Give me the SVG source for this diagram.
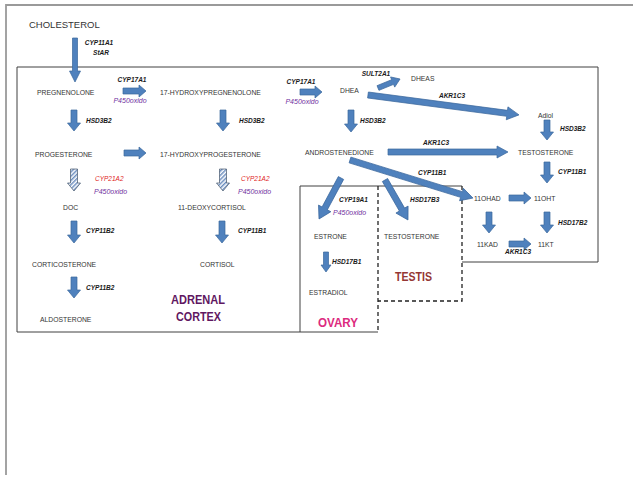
<svg xmlns="http://www.w3.org/2000/svg" width="639" height="482" viewBox="0 0 639 482">
<style>
.n{font-family:"Liberation Sans",Arial,sans-serif;font-size:6.8px;fill:#333}
.l{font-family:"Liberation Sans",Arial,sans-serif;font-size:6.5px;font-weight:bold;font-style:italic;fill:#1a1a1a}
.p{font-family:"Liberation Sans",Arial,sans-serif;font-size:7px;font-style:italic;fill:#7030A0}
.r{font-family:"Liberation Sans",Arial,sans-serif;font-size:6.5px;font-style:italic;fill:#E02424}
.big{font-family:"Liberation Sans",Arial,sans-serif;font-size:12px;font-weight:bold}
.ar{fill:#4F81BD;stroke:#3A679C;stroke-width:0.7}
.ha{fill:url(#hatch);stroke:#44546A;stroke-width:0.7}
.box{fill:none;stroke:#404040;stroke-width:1}
.dash{fill:none;stroke:#222;stroke-width:1.3;stroke-dasharray:4,3}
</style>
<defs>
<pattern id="hatch" patternUnits="userSpaceOnUse" width="3" height="3" patternTransform="rotate(45)">
<rect width="3" height="3" fill="#fff"/><rect width="1.5" height="3" fill="#6C8EBF"/>
</pattern>
</defs>
<rect width="639" height="482" fill="#fff"/>
<g id="frame">
<path d="M6,475 V5 H633" fill="none" stroke="#9a9a9a" stroke-width="1.8"/>
<path class="box" d="M300,332 H17 V67 H598 V262 H462"/>
<path class="box" d="M300,332 H378"/>
<path class="box" d="M300,332 V186 H462"/>
<path class="dash" d="M378,186 V332"/>
<path class="dash" d="M462,186 V301 H378"/>
</g>
<g id="connectors">
<path class="ar" d="M72.5,38 V71 H69.5 L75,82 L80.5,71 H77.5 V38 Z"/>
<path class="ar" d="M71,110 V123 H67.5 L74,131 L80.5,123 H77 V110 Z"/>
<path class="ar" d="M220,110 V123 H216.5 L223,131 L229.5,123 H226 V110 Z"/>
<path class="ar" d="M348,110 V124 H344.5 L351,132 L357.5,124 H354 V110 Z"/>
<path class="ar" d="M544,120 V132 H540.5 L547,140 L553.5,132 H550 V120 Z"/>
<path class="ar" d="M544,162 V175 H540.5 L547,183 L553.5,175 H550 V162 Z"/>
<path class="ar" d="M486,212 V225 H482.5 L489,233 L495.5,225 H492 V212 Z"/>
<path class="ar" d="M544,212 V225 H540.5 L547,233 L553.5,225 H550 V212 Z"/>
<path class="ar" d="M323.5,252 V265 H321 L326,272 L331,265 H328.5 V252 Z"/>
<path class="ar" d="M71,221 V235 H67.5 L74,243 L80.5,235 H77 V221 Z"/>
<path class="ar" d="M219,221 V235 H215.5 L222,243 L228.5,235 H225 V221 Z"/>
<path class="ar" d="M71,277 V290 H67.5 L74,298 L80.5,290 H77 V277 Z"/>
<path class="ha" d="M70.5,169 V183 H67.5 L74,191 L80.5,183 H77.5 V169 Z"/>
<path class="ha" d="M219.5,169 V183 H216.5 L223,191 L229.5,183 H226.5 V169 Z"/>
<path class="ar" d="M123,88 H139 V85 L146,91 L139,97 V94 H123 Z"/>
<path class="ar" d="M300,89 H315 V86 L322,92 L315,98 V95 H300 Z"/>
<path class="ar" d="M124,150 H139 V147 L146,153 L139,159 V156 H124 Z"/>
<path class="ar" d="M388,149 H497 V146 L508,152 L497,158 V155 H388 Z"/>
<path class="ar" d="M509,195 H524 V192 L531,198 L524,204 V201 H509 Z"/>
<path class="ar" d="M509,241 H524 V238 L531,244 L524,250 V247 H509 Z"/>
<path class="ar" transform="translate(378,88) rotate(-22.2)" d="M0,-2.5 H15.8 V-5.5 L23.8,0 L15.8,5.5 V2.5 H0 Z"/>
<path class="ar" transform="translate(368,95) rotate(7.5)" d="M0,-3 H140.3 V-6.5 L152.3,0 L140.3,6.5 V3 H0 Z"/>
<path class="ar" transform="translate(350,160) rotate(17.2)" d="M0,-3 H116.7 V-6.5 L128.7,0 L116.7,6.5 V3 H0 Z"/>
<path class="ar" transform="translate(341,178) rotate(118.2)" d="M0,-3 H34.5 V-7 L46.5,0 L34.5,7 V3 H0 Z"/>
<path class="ar" transform="translate(385,180) rotate(60.1)" d="M0,-3 H34.1 V-7 L46.1,0 L34.1,7 V3 H0 Z"/>
</g>
<g id="labels">
<text class="l" x="99" y="45" text-anchor="middle">CYP11A1</text>
<text class="l" x="101" y="54.5" text-anchor="middle">StAR</text>
<text class="l" x="132" y="82" text-anchor="middle">CYP17A1</text>
<text class="p" x="130" y="102.5" text-anchor="middle">P450oxido</text>
<text class="l" x="301" y="84" text-anchor="middle">CYP17A1</text>
<text class="p" x="302" y="103.5" text-anchor="middle">P450oxido</text>
<text class="l" x="376" y="76" text-anchor="middle">SULT2A1</text>
<text class="l" x="452" y="98" text-anchor="middle">AKR1C3</text>
<text class="l" x="86" y="123">HSD3B2</text>
<text class="l" x="239" y="123">HSD3B2</text>
<text class="l" x="360" y="123">HSD3B2</text>
<text class="l" x="560" y="131">HSD3B2</text>
<text class="l" x="436" y="145" text-anchor="middle">AKR1C3</text>
<text class="l" x="558" y="173.5">CYP11B1</text>
<text class="l" x="418" y="175">CYP11B1</text>
<text class="r" x="95" y="181">CYP21A2</text>
<text class="p" x="94" y="194">P450oxido</text>
<text class="r" x="241" y="181">CYP21A2</text>
<text class="p" x="238" y="194">P450oxido</text>
<text class="l" x="339" y="202">CYP19A1</text>
<text class="p" x="333" y="215">P450oxido</text>
<text class="l" x="410" y="202">HSD17B3</text>
<text class="l" x="558" y="225">HSD17B2</text>
<text class="l" x="505" y="254">AKR1C3</text>
<text class="l" x="332" y="264">HSD17B1</text>
<text class="l" x="86" y="233">CYP11B2</text>
<text class="l" x="238" y="233">CYP11B1</text>
<text class="l" x="86" y="290">CYP11B2</text>
</g>
<g id="cholesterol"><text class="n" x="29" y="28" style="font-size:9.5px">CHOLESTEROL</text></g>
<g id="pregnenolone"><text class="n" x="37" y="94.5">PREGNENOLONE</text></g>
<g id="hydroxypregnenolone"><text class="n" x="160" y="94.5">17-HYDROXYPREGNENOLONE</text></g>
<g id="dhea"><text class="n" x="340" y="92.5">DHEA</text></g>
<g id="dheas"><text class="n" x="411" y="80.5">DHEAS</text></g>
<g id="adiol"><text class="n" x="538" y="117.5">Adiol</text></g>
<g id="progesterone"><text class="n" x="35" y="156.5">PROGESTERONE</text></g>
<g id="hydroxyprogesterone"><text class="n" x="160" y="156.5">17-HYDROXYPROGESTERONE</text></g>
<g id="androstenedione"><text class="n" x="305" y="154.5">ANDROSTENEDIONE</text></g>
<g id="testosterone"><text class="n" x="518" y="154.5">TESTOSTERONE</text></g>
<g id="doc"><text class="n" x="63" y="209.5">DOC</text></g>
<g id="deoxycortisol"><text class="n" x="178" y="209.5">11-DEOXYCORTISOL</text></g>
<g id="ohad"><text class="n" x="474" y="200.5">11OHAD</text></g>
<g id="oht"><text class="n" x="534" y="200.5">11OHT</text></g>
<g id="estrone"><text class="n" x="314" y="238.5">ESTRONE</text></g>
<g id="testosterone-testis"><text class="n" x="384" y="238.5">TESTOSTERONE</text></g>
<g id="kad"><text class="n" x="477" y="246.5">11KAD</text></g>
<g id="kt"><text class="n" x="538" y="246.5">11KT</text></g>
<g id="corticosterone"><text class="n" x="32" y="266.5">CORTICOSTERONE</text></g>
<g id="cortisol"><text class="n" x="200" y="266.5">CORTISOL</text></g>
<g id="estradiol"><text class="n" x="309" y="294.5">ESTRADIOL</text></g>
<g id="aldosterone"><text class="n" x="40" y="321.5">ALDOSTERONE</text></g>
<g id="adrenal-cortex">
<text class="big" x="198" y="304" text-anchor="middle" fill="#5F1761" textLength="54" lengthAdjust="spacingAndGlyphs">ADRENAL</text>
<text class="big" x="198.5" y="321" text-anchor="middle" fill="#5F1761" textLength="45" lengthAdjust="spacingAndGlyphs">CORTEX</text>
</g>
<g id="testis"><text class="big" x="413.5" y="281" text-anchor="middle" fill="#953734" textLength="37" lengthAdjust="spacingAndGlyphs">TESTIS</text></g>
<g id="ovary"><text class="big" x="338" y="327" text-anchor="middle" fill="#DC2A7E" textLength="40" lengthAdjust="spacingAndGlyphs">OVARY</text></g>
</svg>
